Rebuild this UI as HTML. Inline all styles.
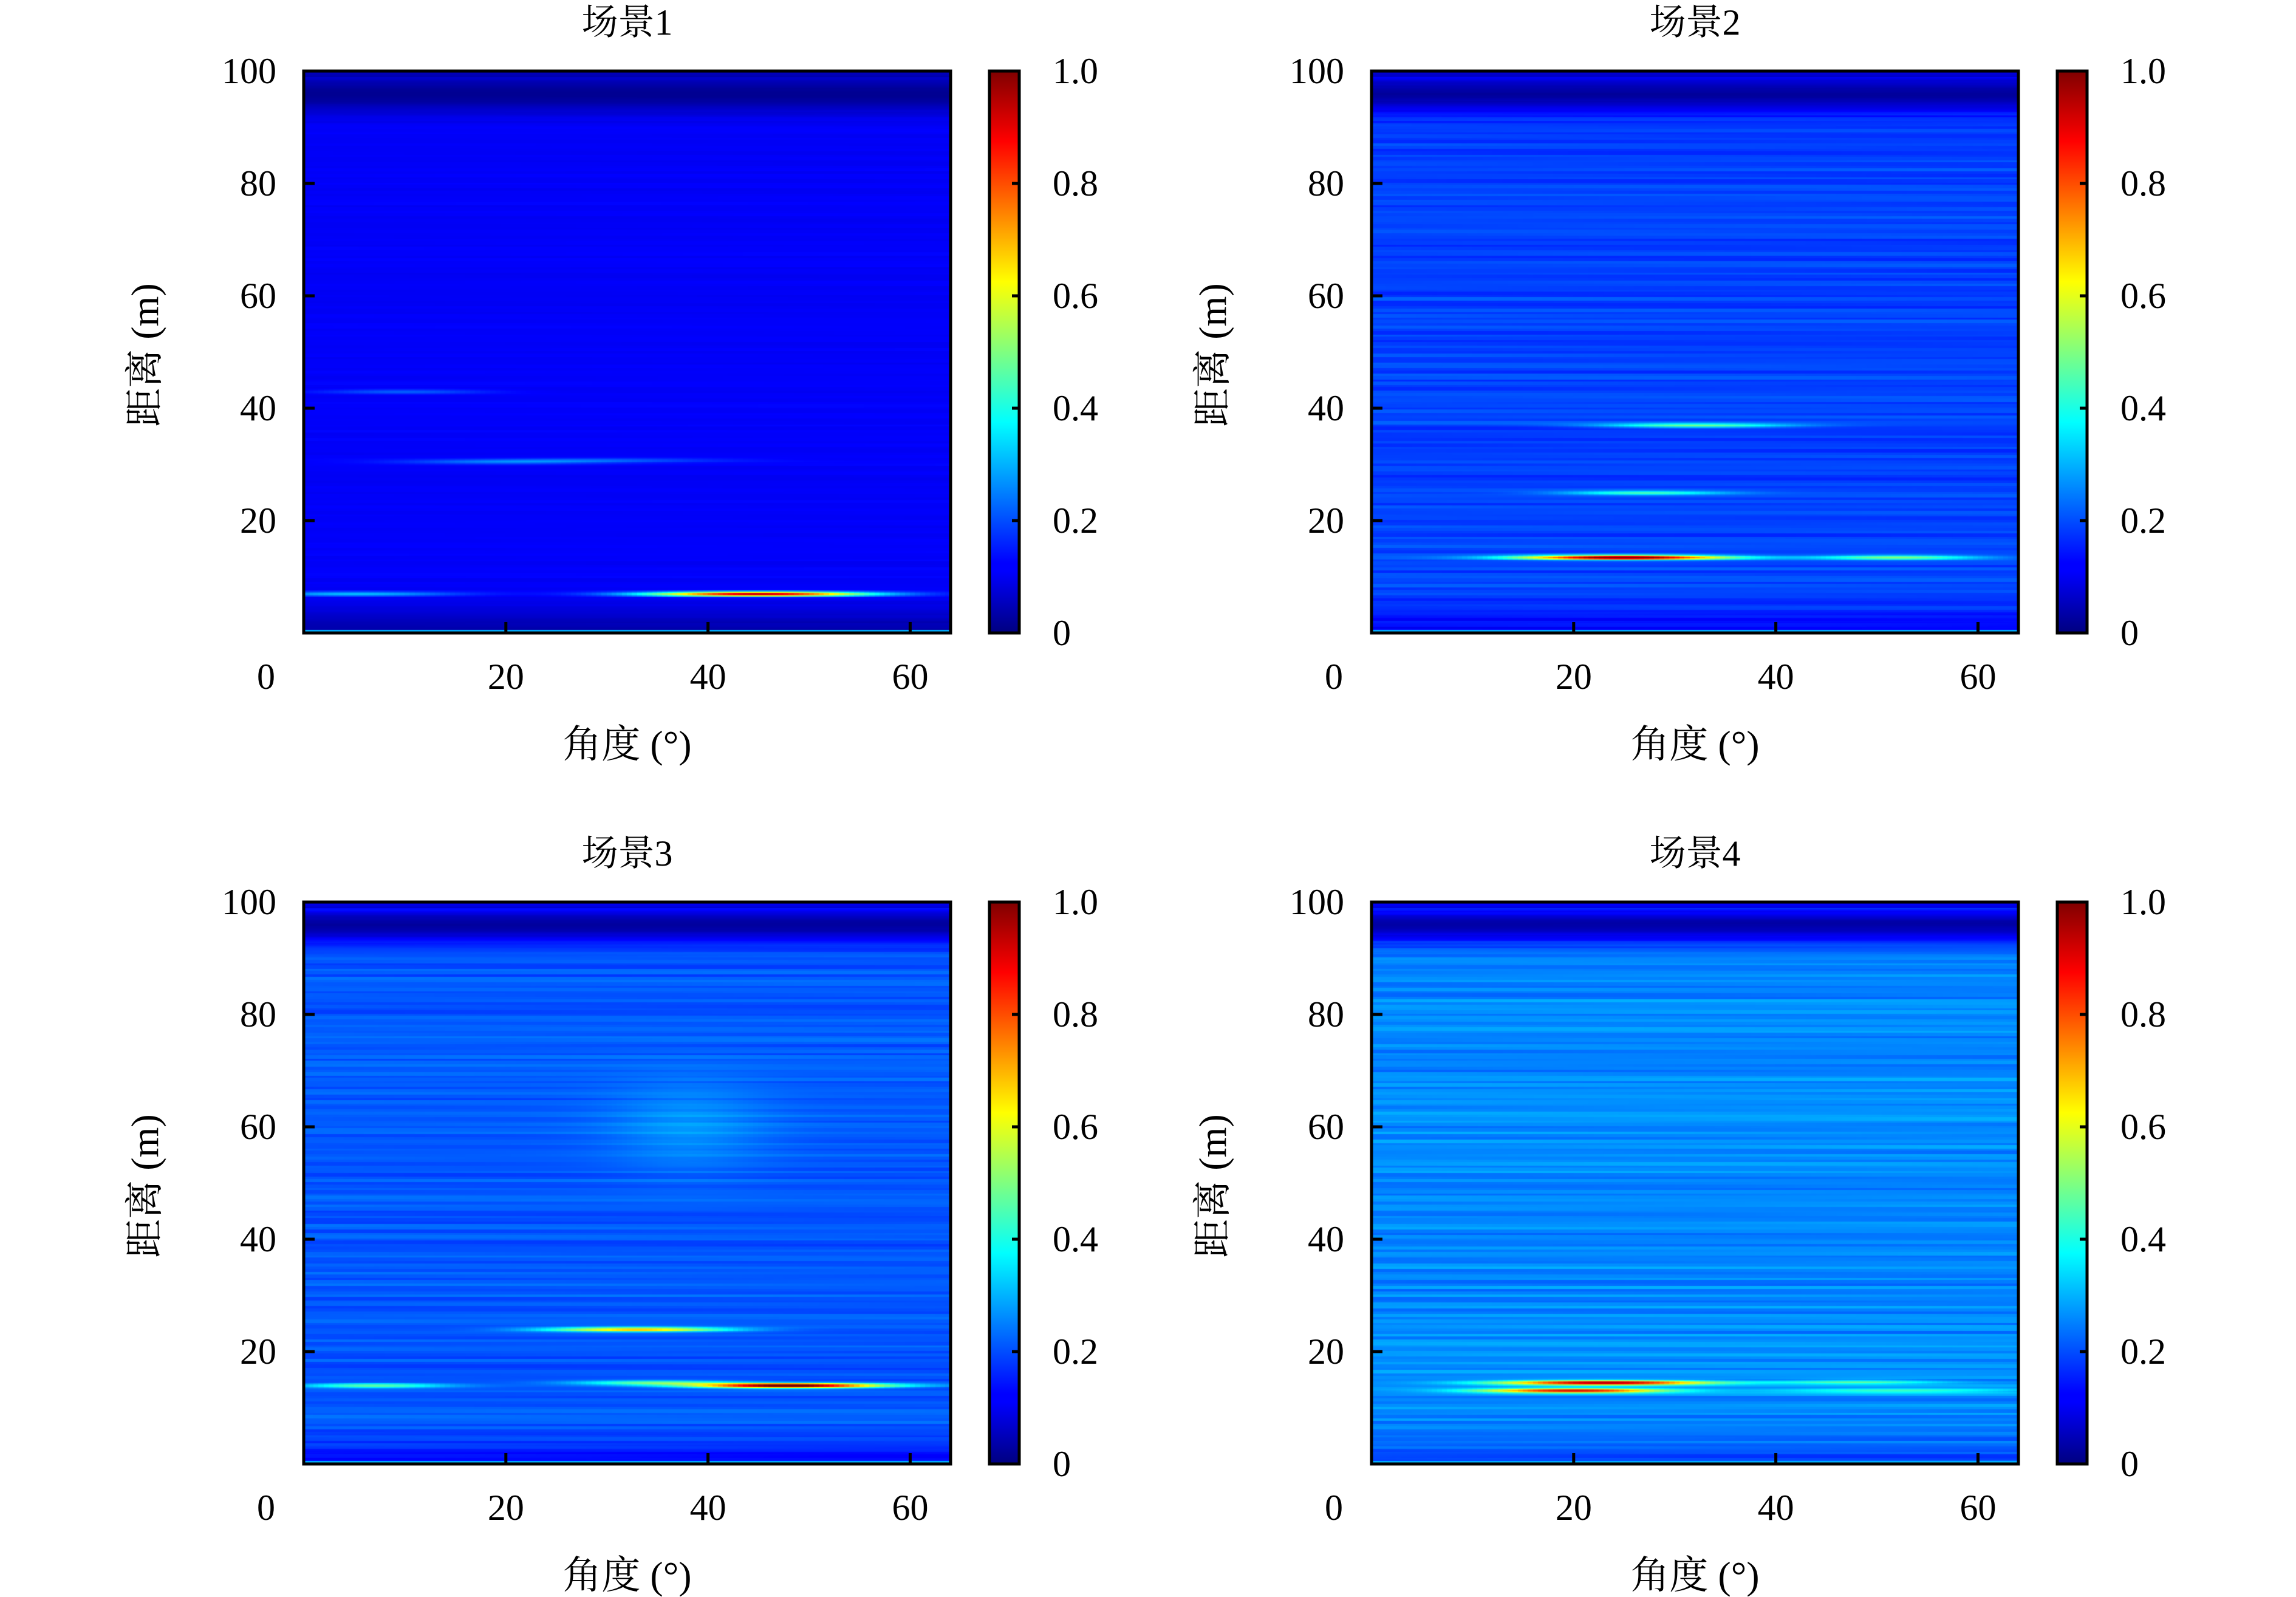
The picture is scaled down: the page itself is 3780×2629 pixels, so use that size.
<!DOCTYPE html>
<html><head><meta charset="utf-8">
<style>
html,body{margin:0;padding:0;background:#fff;}
#root{position:relative;width:3780px;height:2629px;overflow:hidden;}
canvas{position:absolute;}
svg{position:absolute;left:0;top:0;}
text{font-family:"Liberation Serif","Noto Serif CJK SC",serif;fill:#000;}
</style></head>
<body>
<div id="root">
<svg id="svg" width="3780" height="2629">
<defs>
<linearGradient id="jet" x1="0" y1="1" x2="0" y2="0">
<stop offset="0" stop-color="#000080"/><stop offset="0.11" stop-color="#0000ff"/>
<stop offset="0.125" stop-color="#0000ff"/><stop offset="0.375" stop-color="#00ffff"/>
<stop offset="0.625" stop-color="#ffff00"/><stop offset="0.875" stop-color="#ff0000"/>
<stop offset="1" stop-color="#800000"/>
</linearGradient>
</defs>
</svg>
</div>
<script>
// ---- data ----
const sceneTitles = ["场景1","场景2","场景3","场景4"];
const sceneBackground = [0.12, 0.19, 0.21, 0.26];
const sceneTexture = [0.012, 0.04, 0.04, 0.05];
const xTicks = [20, 40, 60];
const yTicks = [20, 40, 60, 80];
const yTickLabels = ["20","40","60","80"];
const cbTicks = [0, 0.2, 0.4, 0.6, 0.8, 1.0];
const cbTickLabels = ["0","0.2","0.4","0.6","0.8","1.0"];
// target streaks: scene index, angle centre (deg), range (m), peak value, angular half-width (deg)
const streakScene = [0,0,0,0,0, 1,1,1,1, 2,2,2,2,2, 3,3,3,3];
const streakAngle = [5,45,20,30,10, 25,52,27,32, 33,48,7,35,38, 23,20,48,52];
const streakRange = [7,7,30.5,30.8,43, 13.5,13.5,25,37, 24,14,14,14.5,60, 14.5,13.1,14.6,13.1];
const streakPeak  = [0.2,0.85,0.13,0.08,0.1, 0.85,0.3,0.25,0.3, 0.5,0.85,0.25,0.3,0.06, 0.8,0.7,0.2,0.2];
const streakWidth = [10,11,10,12,8, 10,8,8,9, 9,9,7,8,8, 10,9,8,12];
const streakHeight = [0.4,0.4,0.4,0.4,0.4, 0.4,0.4,0.4,0.4, 0.4,0.4,0.4,0.4,8, 0.4,0.4,0.4,0.4];

// ---- layout ----
const W = 1065, H = 925;
const panelX = [500, 2258, 500, 2258];
const panelY = [117, 117, 1485, 1485];
const cbOff = 64, cbW = 49;
const X_MAX = 64, Y_MAX = 100;
function xScale(a){ return a / X_MAX * W; }
function yScale(r){ return (Y_MAX - r) / Y_MAX * H; }
function cbScale(v){ return (1 - v) * H; }

function jet(v){
  v = Math.max(0, Math.min(1, v));
  const c = t => Math.max(0, Math.min(1, 1.5 - Math.abs(t)));
  return [c(4*v-3)*255|0, c(4*v-2)*255|0, c(4*v-1)*255|0];
}
function texture(r, a, s){
  const t = Math.sin(r*12.9898 + s*7.1)*43758.5453;
  const u = Math.sin(r*3.7 + a*0.05 + s)*0.5;
  return (t - Math.floor(t) - 0.5) + u*0.6;
}
function value(s, a, r){
  let v = sceneBackground[s] + sceneTexture[s]*texture(Math.round(r*2)/2, a, s);
  if (r > 86) v *= 1 - 0.85*Math.exp(-Math.pow((r-96)/3.2, 2)) - (r>99?0.3:0);
  if (r < 8) v -= 0.08*Math.exp(-Math.pow(r/4, 2));
  if (r < 0.6) v = Math.max(v, 0.3);
  for (let i = 0; i < streakScene.length; i++){
    if (streakScene[i] !== s) continue;
    v += streakPeak[i]*Math.exp(-Math.pow((a-streakAngle[i])/streakWidth[i],2) - Math.pow((r-streakRange[i])/streakHeight[i],2));
  }
  return v;
}

const svg = document.getElementById('svg');
const root = document.getElementById('root');
const NS = "http://www.w3.org/2000/svg";
function mk(tag, attrs, parent){
  const e = document.createElementNS(NS, tag);
  for (const k in attrs) e.setAttribute(k, attrs[k]);
  parent.appendChild(e); return e;
}

for (let s = 0; s < 4; s++){
  const px = panelX[s], py = panelY[s];
  const cv = document.createElement('canvas');
  
  
  cv.width = W; cv.height = H;
  cv.style.left = px + 'px'; cv.style.top = py + 'px';
  root.insertBefore(cv, svg);
  const ctx = cv.getContext('2d');
  const da = 0.5, dr = 0.2;
  for (let a = 0; a < X_MAX; a += da){
    for (let r = 0; r < Y_MAX; r += dr){
      const c = jet(value(s, a + da/2, r + dr/2));
      ctx.fillStyle = 'rgb(' + c[0] + ',' + c[1] + ',' + c[2] + ')';
      const x0 = xScale(a), y0 = yScale(r + dr);
      ctx.fillRect(Math.floor(x0), Math.floor(y0), Math.ceil(xScale(a+da) - x0) + 1, Math.ceil(yScale(r) - y0) + 1);
    }
  }
  const g = mk('g', {}, svg);
  
  
  const fr = mk('rect', {x:px, y:py, width:W, height:H, fill:'none', stroke:'#000', 'stroke-width':5}, g);
  
  
  const tt = mk('text', {x:px + W/2, y:py - 60, 'font-size':60, 'text-anchor':'middle'}, g);
  tt.textContent = sceneTitles[s];
  
  
  xTicks.forEach(t => {
    const x = px + xScale(t);
    const l = mk('line', {x1:x, x2:x, y1:py+H, y2:py+H-18, stroke:'#000', 'stroke-width':5}, g);
    
    
    const tx = mk('text', {x:x, y:py+H+92, 'font-size':60, 'text-anchor':'middle'}, g);
    tx.textContent = String(t);
    
    
  });
  const zx = mk('text', {x:px - 62, y:py+H+92, 'font-size':60, 'text-anchor':'middle'}, g);
  zx.textContent = "0";
  
  
  yTicks.forEach((t, i) => {
    const y = py + yScale(t);
    const l = mk('line', {x1:px, x2:px+18, y1:y, y2:y, stroke:'#000', 'stroke-width':5}, g);
    
    
    const tx = mk('text', {x:px - 45, y:y + 20, 'font-size':60, 'text-anchor':'end'}, g);
    tx.textContent = yTickLabels[i];
    
    
  });
  const ty = mk('text', {x:px - 45, y:py + 20, 'font-size':60, 'text-anchor':'end'}, g);
  ty.textContent = "100";
  
  
  const xt = mk('text', {x:px + W/2, y:py + H + 205, 'font-size':64, 'text-anchor':'middle'}, g);
  xt.textContent = "角度 (°)";
  
  
  const yt = mk('text', {x:0, y:0, 'font-size':64, 'text-anchor':'middle', transform:'translate(' + (px-240) + ',' + (py + H/2 + 5) + ') rotate(-90)'}, g);
  yt.textContent = "距离 (m)";
  
  
  const cx = px + W + cbOff;
  const cb = mk('rect', {x:cx, y:py, width:cbW, height:H, fill:'url(#jet)', stroke:'#000', 'stroke-width':5}, g);
  
  
  cbTicks.forEach((t, i) => {
    const y = py + cbScale(t);
    const l = mk('line', {x1:cx+cbW, x2:cx+cbW-12, y1:y, y2:y, stroke:'#000', 'stroke-width':5}, g);
    
    
    const tx = mk('text', {x:cx + cbW + 55, y:y + 20, 'font-size':60, 'text-anchor':'start'}, g);
    tx.textContent = cbTickLabels[i];
    
    
  });
}
</script>
</body></html>
